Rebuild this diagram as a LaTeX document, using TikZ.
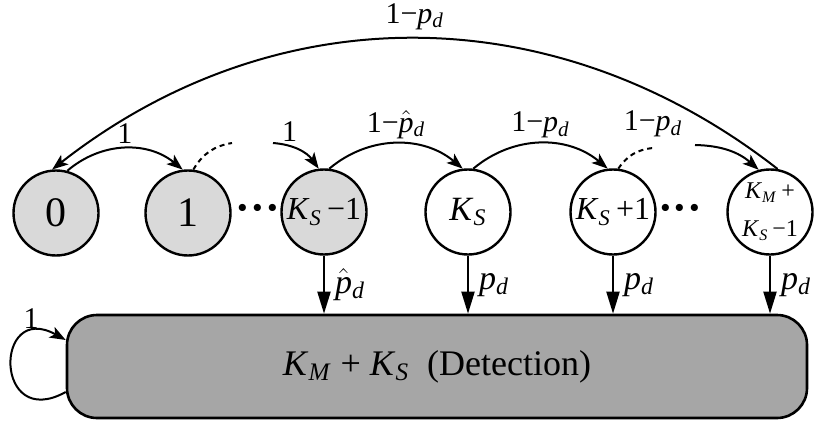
\documentclass[tikz,border=0pt]{standalone}
\usepackage{fontspec}
\setmainfont{Liberation Serif}
\usetikzlibrary{arrows.meta,positioning,calc}

\newcommand{\KS}{\textit{K}\textsubscript{\textit{S}}}
\newcommand{\KM}{\textit{K}\textsubscript{\textit{M}}}
\newcommand{\pd}{\textit{p}\textsubscript{\textit{d}}}
\newcommand{\phd}{$\hat{\textit{p}}$\textsubscript{\textit{d}}}

\begin{document}
\begin{tikzpicture}[
  x=0.5pt, y=0.5pt,
  >={Stealth[length=8pt, width=6pt, inset=2pt]},
  state/.style ={circle, draw=black, line width=1.2pt, minimum size=42.5pt,
                 inner sep=0pt, align=center, font=\fontsize{17}{19}\selectfont},
  trans/.style ={state, fill=gray!30},
  absorb/.style={draw=black, fill=gray!70, line width=1.3pt, rounded corners=15pt,
                 minimum width=370pt, minimum height=51.5pt,
                 font=\fontsize{18}{20}\selectfont},
  flow/.style  ={->, line width=1pt},
  hop/.style   ={line width=1pt, dash pattern=on 2.5pt off 2pt},
  down/.style  ={-{Triangle[length=11pt, width=6.5pt]}, line width=1pt},
  prob/.style  ={font=\fontsize{15}{17}\selectfont, inner sep=2pt},
  dots/.style  ={font=\fontsize{22}{24}\selectfont\bfseries},
]
\useasboundingbox (0,0) rectangle (817,-422);

% ---------- States ----------
\node[trans, font=\fontsize{21}{23}\selectfont] (s0)   at (56,-213)  {0};
\node[trans, font=\fontsize{21}{23}\selectfont] (s1)   at (188,-213) {1};
\node[dots]                                     (d1)   at (258,-213) {···};
\node[trans, font=\fontsize{16}{18}\selectfont] (sKm1) at (324,-212) {\KS\,−1};
\node[state]                                    (sK)   at (468,-212) {\KS};
\node[state, font=\fontsize{16}{18}\selectfont] (sKp1) at (613,-212) {\KS\,+1};
\node[dots]                                     (d2)   at (680,-213) {···};
\node[state, font=\fontsize{12}{19}\selectfont] (sMax) at (770,-212) {\KM\,+\\\KS\,−1};

% ---------- Detection ----------
\node[absorb] (det) at (437,-366.5) {\KM\ +\ \KS\ \ (Detection)};

% ---------- Detection arrows ----------
\foreach \s/\lab in {sKm1/\phd, sK/\pd, sKp1/\pd, sMax/\pd}
  \draw[down] (\s.south) -- (\s.south |- det.north)
    node[midway, right=3pt, prob, font=\fontsize{17}{19}\selectfont] {\lab};

% ---------- Transitions ----------
\coordinate (hop1) at (232,-143);
\coordinate (in1)  at (273,-143);
\coordinate (hop2) at (653,-148);
\coordinate (in2)  at (695,-145);

\draw[flow] (s0.75) to[bend left=40] node[above, prob] {1} (s1.97);
\draw[hop]  (s1.83) to[bend left=25] (hop1);
\draw[flow] (in1) to[bend left=25] node[pos=0.3, above, prob] {1} (sKm1.97);
\draw[flow] (sKm1.83) to[bend left=40] node[above, prob] {1−\phd} (sK.97);
\draw[flow] (sK.83) to[bend left=40] node[above, prob] {1−\pd} (sKp1.97);
\draw[hop]  (sKp1.83) to[bend left=25] node[pos=1, above=3pt, prob] {1−\pd} (hop2);
\draw[flow] (in2) to[bend left=20] (sMax.105);
\draw[flow] (sMax.80) to[bend right=38] node[above=2pt, prob] {1−\pd} (s0.95);

% ---------- Self loop ----------
\coordinate (lpout) at ($(det.west)+(0,-25.5)$);
\coordinate (lpin)  at ($(det.west)+(0,26.5)$);
\draw[flow] (lpout) .. controls +(-72,-40) and +(-72,40) .. (lpin)
  node[pos=0.8, above, prob] {1};

\end{tikzpicture}
\end{document}
